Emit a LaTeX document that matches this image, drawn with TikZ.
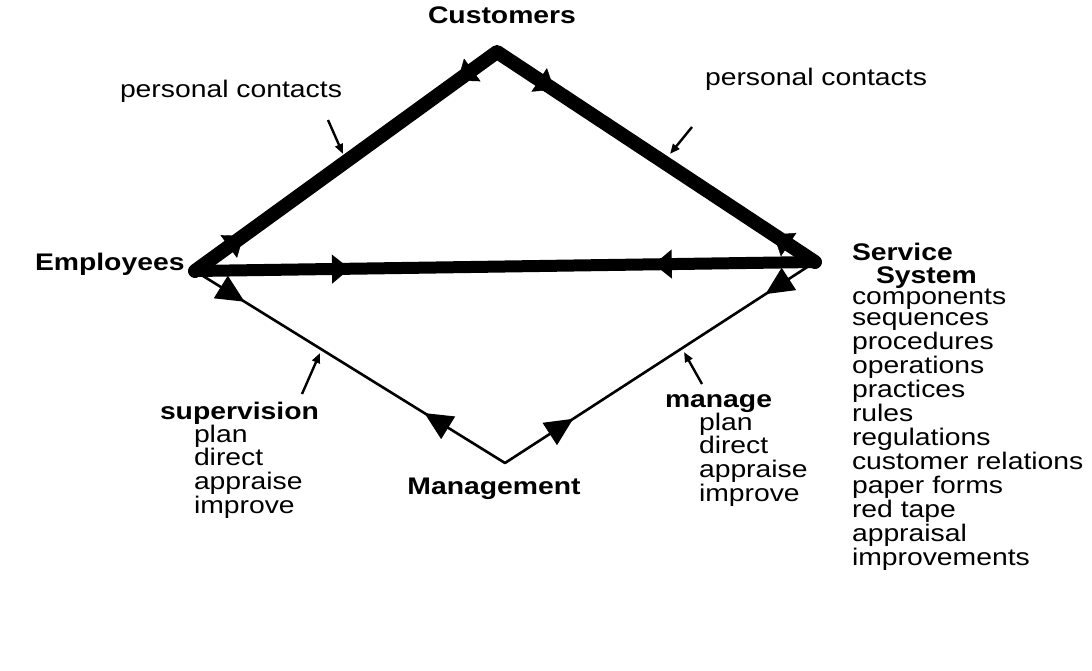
\documentclass[tikz,border=0pt]{standalone}
\usepackage{fontspec}
\setmainfont[FakeStretch=1.18]{Liberation Sans}
\usetikzlibrary{arrows.meta,decorations.markings}

% a left-aligned stack of lines whose baseline is that of its first line
\newcommand{\stackedlines}[1]{{\renewcommand{\arraystretch}{0.94}%
  \begin{tabular}[t]{@{}l@{}}#1\end{tabular}}}

\tikzset{
  every node/.style={inner sep=0pt, outer sep=0pt,
    font=\fontsize{24}{23.2}\selectfont},
  lbl/.style={anchor=base west},
  bold/.style={font=\fontsize{24}{23.2}\selectfont\bfseries},
  thickline/.style={line width=14pt, line join=round, line cap=round},
  midline/.style={line width=12pt, line cap=round},
  thinline/.style={line width=2.6pt, line cap=round},
  pointer/.style={line width=2.4pt, -{Triangle[length=10pt,width=8pt]}},
  % arrowheads placed along a connector, pointing away from either end
  barbs/.style 2 args={postaction={decorate, decoration={markings,
      mark=at position #1 with {\arrow{Triangle[length=18pt,width=28pt]}},
      mark=at position #2 with {\arrowreversed{Triangle[length=18pt,width=28pt]}}}}},
  tbarbs/.style 2 args={postaction={decorate, decoration={markings,
      mark=at position #1 with {\arrow{Triangle[length=28pt,width=26pt]}},
      mark=at position #2 with {\arrowreversed{Triangle[length=28pt,width=26pt]}}}}},
}

\begin{document}
\begin{tikzpicture}[x=1pt,y=-1pt]
\useasboundingbox (0,0) rectangle (1092,671);

% corner points of the diamond
\coordinate (C) at (497,52);
\coordinate (E) at (195,271);
\coordinate (S) at (815,262);
\coordinate (M) at (505,463);

% thin lines to management
\draw[thinline, tbarbs={0.16}{0.74}] (E) -- (M);
\draw[thinline, tbarbs={0.16}{0.78}] (S) -- (M);

% heavy triangle of personal contacts
\draw[midline, barbs={0.25}{0.74}] (E) -- (S);
\draw[thickline] (E) -- (C) -- (S);
\path[barbs={0.16}{0.87}] (E) -- (C);
\path[barbs={0.18}{0.87}] (C) -- (S);

% labels
\node[bold, anchor=base] (cust) at (502,24) {Customers};
\node[bold, lbl] (empl) at (35,270) {Employees};
\node[bold, anchor=base] (mgmt) at (494,494) {Management};
\node[lbl] (pcl) at (120,98) {personal contacts};
\node[lbl] (pcr) at (705,86) {personal contacts};

\node[bold, lbl] (serv) at (852,260) {Service};
\node[bold, lbl] (syst) at (876,283) {System};
\node[lbl] (list) at (852,304) {\stackedlines{components\\sequences\\procedures\\operations\\practices\\rules\\regulations\\customer relations\\paper forms\\red tape\\appraisal\\improvements}};

\node[bold, lbl] (sup) at (160,419) {supervision};
\node[lbl] (supl) at (194,442) {\stackedlines{plan\\direct\\appraise\\improve}};
\node[bold, lbl] (man) at (665,407) {manage};
\node[lbl] (manl) at (699,430) {\stackedlines{plan\\direct\\appraise\\improve}};

% pointers from labels to lines
\coordinate (p1) at (343,154);
\coordinate (p2) at (670,154);
\coordinate (p3) at (320,353);
\coordinate (p4) at (684,352);
\draw[pointer] (328,120) -- (p1);
\draw[pointer] (692,127) -- (p2);
\draw[pointer] (302,394) -- (p3);
\draw[pointer] (702,384) -- (p4);
\end{tikzpicture}
\end{document}
